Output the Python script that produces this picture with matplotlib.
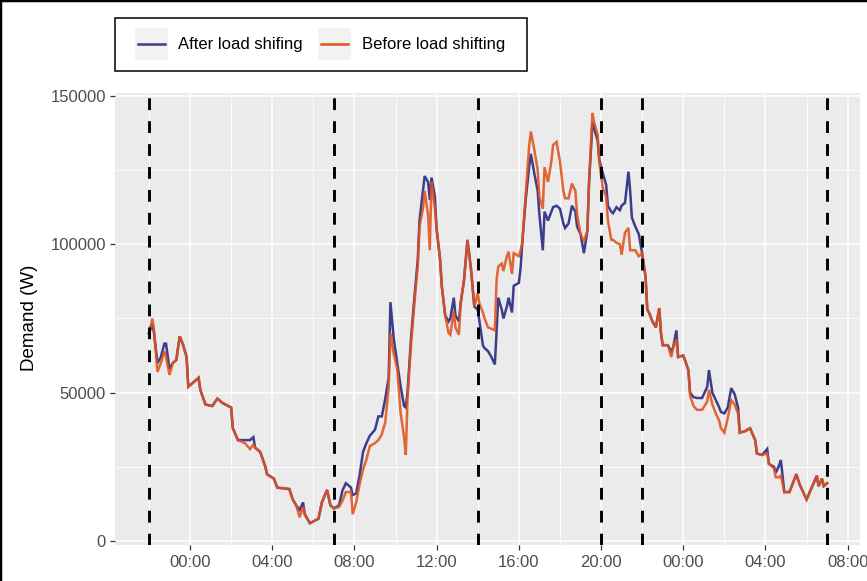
import numpy as np
import matplotlib
matplotlib.use("Agg")
import matplotlib.pyplot as plt
from matplotlib.lines import Line2D
from matplotlib.patches import Rectangle

plt.rcParams["font.family"] = ["Liberation Sans", "DejaVu Sans"]
plt.rcParams["lines.scale_dashes"] = False

# Sample times, in minutes elapsed since 22:00 on the first evening
minutes = [
    0, 10, 15, 25, 35, 45, 50, 60, 70, 80, 90, 100, 110, 115, 145, 150, 165, 185,
    200, 215, 240, 245, 260, 280, 295, 305, 310, 325, 340, 345, 365, 375, 410, 420,
    430, 440, 450, 455, 470, 495, 505, 520, 530, 540,
    555, 565, 575, 590, 595, 605, 615, 625, 635, 645, 660, 670, 680, 690, 700, 705,
    715, 725, 735, 745, 750, 755, 765, 775, 785, 790, 800, 805, 815, 820, 825, 835,
    840, 850, 855, 865, 875, 880, 890, 895, 905, 910, 920, 930, 940, 950, 960, 965,
    975, 980, 990, 1000, 1010, 1015, 1020, 1030, 1035, 1045, 1050, 1060, 1065, 1080,
    1085, 1090, 1100, 1110, 1115, 1125, 1135, 1140, 1150, 1155, 1165, 1175, 1180,
    1190, 1200, 1210, 1215, 1225, 1235, 1245, 1250, 1260, 1270, 1280, 1285, 1295,
    1300, 1310, 1315, 1325, 1335, 1340, 1350, 1355, 1365, 1375, 1380, 1390, 1400,
    1405, 1410, 1420, 1430, 1440,
    1450, 1455, 1460, 1470, 1480, 1490, 1495, 1500, 1515, 1525, 1530, 1540, 1545,
    1560, 1565, 1575, 1580, 1590, 1600, 1615, 1630, 1635, 1645, 1655, 1665, 1670,
    1680, 1690, 1700, 1710, 1720, 1725, 1740, 1755, 1770, 1775, 1790, 1805, 1810,
    1825, 1830, 1840, 1845, 1855, 1870, 1880, 1890, 1900, 1910, 1920, 1935, 1950,
    1955, 1965, 1970, 1980,
]

# Demand after load shifting (W)
after_w = [
    70000, 73000, 70000, 60000, 62000, 66500, 66500, 58000, 60000, 61000, 69000, 66000,
    62000, 52000, 55000, 51000, 46000, 45500, 48000, 46500, 45000, 38000, 34000, 34000,
    34000, 35000, 31500, 30000, 25000, 22500, 21000, 18000, 17500, 14000, 12000, 10500,
    13000, 9000, 6000, 7500, 13000, 17200, 12000, 11000,
    12000, 17000, 19500, 18000, 15500, 16000, 22000, 30000, 33000, 35500, 37500, 42000,
    42000, 48000, 55000, 80500, 68000, 60000, 52000, 45500, 45000, 50000, 68000, 82000,
    95000, 108000, 118000, 123000, 121000, 115000, 122500, 116000, 105000, 95000, 86000,
    76000, 74000, 75000, 82000, 76000, 74000, 80000, 88000, 101500, 92000, 79000, 78000,
    74000, 66000, 65000, 64000, 62000, 59500, 71000, 82000, 78000, 75000, 79000, 82000,
    77000, 86000, 87000, 92000, 100500, 115000, 126000, 130500, 124000, 118000, 110000,
    98000, 111000, 108000, 111000, 112500, 113000, 112000, 107000, 105500, 107000,
    113000, 111000, 106000, 103500, 97000, 104500, 121000, 141000, 139000, 135000,
    128500, 124000, 120000, 113000, 111000, 110500, 112500, 111500, 113000, 114000,
    124500, 118000, 109000, 106000, 103500, 97000,
    89000, 78000, 77000, 74000, 72000, 78500, 70000, 66000, 66000, 64000, 65000, 71000,
    62000, 62500, 61000, 57500, 50000, 48500, 48200, 48200, 52000, 57600, 50000, 47500,
    45000, 43500, 43000, 45000, 51500, 49500, 45000, 36500, 37000, 38000, 34000, 29500,
    29000, 31000, 26000, 25000, 23000, 25500, 27300, 16500, 16500, 19500, 22500, 19000,
    16500, 14000, 18000, 22000, 18500, 21000, 18500, 19500,
]

# Demand before load shifting (W)
before_w = [
    70000, 75000, 71000, 57000, 60000, 64000, 62000, 56000, 60000, 61000, 69000, 66000,
    62000, 52000, 55000, 51000, 46000, 45500, 48000, 46500, 45000, 38000, 34000, 33000,
    31000, 32500, 31500, 30000, 25000, 22500, 21000, 18000, 17500, 14000, 12000, 8000,
    11500, 9000, 6000, 7500, 13000, 17200, 12000, 11000,
    11500, 13500, 16500, 16500, 9000, 13000, 19000, 24000, 27500, 32000, 33000, 34000,
    36000, 40000, 52000, 70000, 63000, 58000, 43000, 35000, 29000, 48000, 66000, 80000,
    93000, 106000, 112000, 118000, 110000, 98000, 121000, 112000, 105000, 95000, 86000,
    76000, 70000, 69500, 77500, 72000, 69500, 80000, 88000, 101500, 92000, 79000, 83500,
    80000, 77000, 75000, 72000, 71500, 71000, 88000, 92500, 93500, 91000, 96000, 97500,
    90000, 97000, 96000, 98000, 100500, 117000, 133000, 138000, 132000, 125000, 116000,
    112000, 126000, 121000, 128000, 133500, 134500, 128000, 118000, 115500, 115500,
    120500, 118000, 110000, 103500, 101000, 104500, 121000, 144300, 141000, 137000,
    127500, 119000, 116000, 108000, 101500, 101500, 100500, 100000, 96500, 104000,
    105500, 98000, 98000, 98000, 96000, 97000,
    89000, 78000, 77000, 74000, 72000, 78500, 70000, 66000, 66000, 62000, 65000, 68000,
    62000, 62500, 61000, 57500, 49000, 45500, 44200, 44200, 47000, 51000, 46000, 43000,
    40500, 38000, 36500, 41500, 47500, 46000, 43000, 36500, 37000, 38000, 34000, 29500,
    29000, 29500, 26000, 24500, 21500, 21500, 22000, 16500, 16500, 19500, 22500, 19000,
    16500, 14000, 18000, 22000, 18500, 21000, 18500, 19500,
]

series_labels = ["After load shifing", "Before load shifting"]
series_colors = ["#3D3D8E", "#E0521E"]

# Boundaries of the tariff periods, in hours from the first midnight
period_marks_h = [-2, 7, 14, 20, 22, 31]

x_ticks_h = [0, 4, 8, 12, 16, 20, 24, 28, 32]
x_tick_labels = ["00:00", "04:00", "08:00", "12:00", "16:00", "20:00",
                 "00:00", "04:00", "08:00"]
x_minor_h = [-2, 2, 6, 10, 14, 18, 22, 26, 30]
y_ticks = [0, 50000, 100000, 150000]
y_minor = [25000, 75000, 125000]

W, H = 867, 581
fig = plt.figure(figsize=(W / 100, H / 100), dpi=100)
fig.patch.set_facecolor("white")

def fx(px):
    return px / W

def fy(py):
    return 1 - py / H

ax = fig.add_axes([fx(115), fy(545), fx(860) - fx(115), fy(93) - fy(545)])
ax.set_facecolor("#EBEBEB")

hours = np.asarray(minutes) / 60.0 - 2.0
ax.plot(hours, after_w, color=series_colors[0], lw=1.8,
        solid_joinstyle="miter", zorder=3)
ax.plot(hours, before_w, color=series_colors[1], lw=1.8,
        solid_joinstyle="miter", alpha=0.88, zorder=4)

for h in period_marks_h:
    ax.axvline(h, color="black", lw=2.1, dashes=(8.5, 8), zorder=5)

ax.set_xlim(-3.65, 32.6)
ax.set_ylim(-1350, 151000)
ax.set_xticks(x_ticks_h)
ax.set_xticklabels(x_tick_labels)
ax.set_xticks(x_minor_h, minor=True)
ax.set_yticks(y_ticks)
ax.set_yticklabels([str(v) for v in y_ticks])
ax.set_yticks(y_minor, minor=True)

ax.grid(which="major", color="white", lw=1.1)
ax.grid(which="minor", color="white", lw=0.6)
ax.set_axisbelow(True)
for s in ax.spines.values():
    s.set_visible(False)

ax.tick_params(which="major", length=3.5, width=0.9, color="#333333",
               labelcolor="#4D4D4D", labelsize=12)
ax.tick_params(axis="x", which="major", pad=4)
ax.tick_params(axis="y", which="major", pad=3)
ax.tick_params(which="minor", length=0)

fig.text(fx(30), fy(318), "Demand (W)", rotation=90, ha="center",
         va="center", fontsize=13.5, color="black")

# Legend box drawn in figure pixels
def frect(x0, y0, x1, y1, **kw):
    return Rectangle((fx(x0), fy(y1)), fx(x1) - fx(x0), fy(y0) - fy(y1),
                     transform=fig.transFigure, **kw)

fig.add_artist(frect(115, 18, 527, 71, facecolor="white",
                     edgecolor="black", lw=1.1))
key_x = [135, 318]
text_x = [178, 362]
for kx, tx, lab, col in zip(key_x, text_x, series_labels, series_colors):
    fig.add_artist(frect(kx, 28, kx + 33, 60, facecolor="#F2F2F2",
                         edgecolor="none"))
    fig.add_artist(Line2D([fx(kx + 3), fx(kx + 30)], [fy(44), fy(44)],
                          transform=fig.transFigure, color=col, lw=1.8))
    fig.text(fx(tx), fy(45), lab, ha="left", va="center", fontsize=12,
             color="black")

# Frame along the top and left edges
fig.add_artist(Line2D([0, 1], [1, 1], transform=fig.transFigure,
                      color="black", lw=2.5))
fig.add_artist(Line2D([0, 0], [0, 1], transform=fig.transFigure,
                      color="black", lw=2.5))

fig.savefig("out.png", dpi=100, facecolor="white")
